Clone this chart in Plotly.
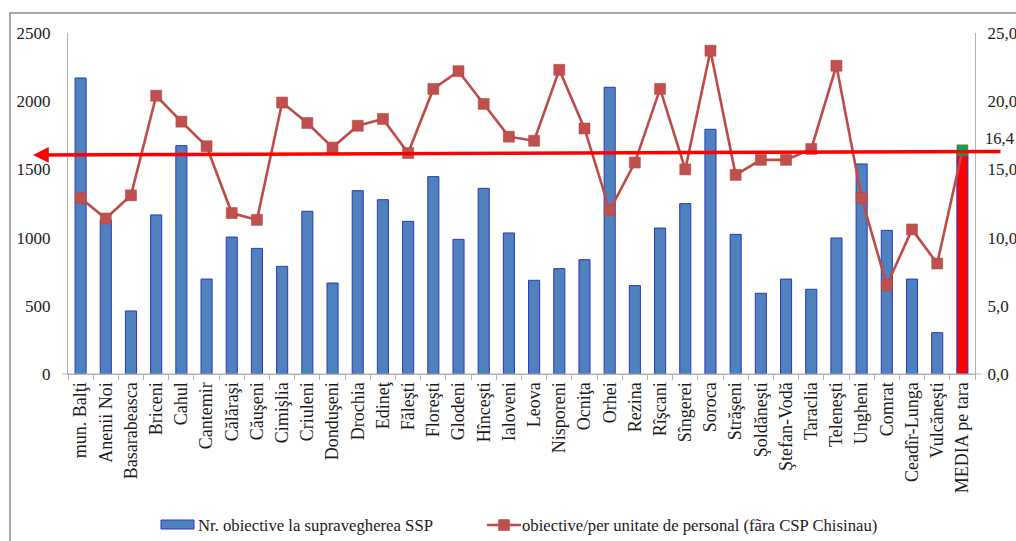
import plotly.graph_objects as go

# Raioane / unități teritoriale
categories = [
    "mun. Balţi", "Anenii Noi", "Basarabeasca", "Briceni", "Cahul", "Cantemir",
    "Călăraşi", "Căuşeni", "Cimişlia", "Criuleni", "Donduşeni", "Drochia",
    "Edineţ", "Făleşti", "Floreşti", "Glodeni", "Hînceşti", "Ialoveni",
    "Leova", "Nisporeni", "Ocniţa", "Orhei", "Rezina", "Rîşcani",
    "Sîngerei", "Soroca", "Străşeni", "Şoldăneşti", "Ştefan-Vodă", "Taraclia",
    "Teleneşti", "Ungheni", "Comrat", "Ceadîr-Lunga", "Vulcăneşti", "MEDIA pe tara",
]

# Nr. obiective la supravegherea SSP (axa stângă)
objectives = [
    2170, 1130, 462, 1166, 1674, 696,
    1004, 921, 789, 1193, 667, 1344,
    1278, 1119, 1447, 987, 1361, 1034,
    687, 772, 838, 2102, 648, 1070,
    1249, 1794, 1024, 592, 696, 621,
    997, 1540, 1053, 696, 303, 1640,
]

# Obiective per unitate de personal (axa dreaptă)
per_staff = [
    12.9, 11.4, 13.1, 20.4, 18.5, 16.7,
    11.8, 11.3, 19.9, 18.4, 16.6, 18.2,
    18.7, 16.2, 20.9, 22.2, 19.8, 17.4,
    17.1, 22.3, 18.0, 12.0, 15.5, 20.9,
    15.0, 23.7, 14.6, 15.7, 15.7, 16.5,
    22.6, 12.9, 6.5, 10.6, 8.1, 16.4,
]

left_ticks = [0, 500, 1000, 1500, 2000, 2500]
right_ticks = [0, 5, 10, 15, 20, 25]
right_tick_text = ["0,0", "5,0", "10,0", "15,0", "20,0", "25,0"]
media_label = "16,4"

bar_legend = "Nr. obiective la supravegherea SSP"
line_legend = "obiective/per unitate de personal (fãra CSP Chisinau)"

SERIF = "Liberation Serif, Times New Roman, serif"
TEXT = "#1a1a1a"
AXIS = "#b3b3b3"
BAR = "#4f81bd"
BAR_EDGE = "#2b35c4"
LINE = "#be4b48"
MARK = "#c0504d"

# plot area in pixels
L, R, T, B = 68, 975, 33, 374
PW, PH = R - L, B - T


def px(x):
    return (x - L) / PW


def py(y):
    return (B - y) / PH


last = len(categories) - 1
bar_colors = ["#ff0000" if i == last else BAR for i in range(len(categories))]
marker_colors = ["#00a651" if i == last else MARK for i in range(len(categories))]

fig = go.Figure()

fig.add_trace(go.Bar(
    x=categories, y=objectives, name=bar_legend,
    marker=dict(color=bar_colors, line=dict(color=BAR_EDGE, width=1)),
    yaxis="y", showlegend=False,
))

fig.add_trace(go.Scatter(
    x=categories, y=per_staff, name=line_legend,
    mode="lines+markers",
    line=dict(color=LINE, width=2.6),
    marker=dict(symbol="square", size=11, color=marker_colors,
                line=dict(color="#b0403d", width=0.5)),
    yaxis="y2", showlegend=False,
))

# national average line with arrow pointing to the left axis
fig.add_annotation(
    xref="paper", yref="paper",
    x=px(33), y=py(155),
    axref="pixel", ayref="pixel",
    ax=969, ay=-3.5,
    text="", showarrow=True,
    arrowhead=2, arrowsize=0.9, arrowwidth=3.5, arrowcolor="#ff0000",
    standoff=0, startstandoff=0,
)

fig.add_annotation(
    xref="paper", yref="paper",
    x=px(983), y=py(138),
    xanchor="left", yanchor="middle",
    text=media_label, showarrow=False,
    font=dict(family=SERIF, size=16.5, color=TEXT),
)

# outer chart frame
fig.add_shape(
    type="rect", xref="paper", yref="paper",
    x0=px(10), x1=px(1030), y0=py(560), y1=py(13),
    line=dict(color="#8c8c8c", width=1.5), fillcolor="rgba(0,0,0,0)",
    layer="below",
)

# baseline extending slightly past both value axes
fig.add_shape(
    type="line", xref="paper", yref="paper",
    x0=px(62), x1=px(981), y0=0, y1=0,
    line=dict(color=AXIS, width=1.2),
)

# legend: bar swatch + label, line/marker swatch + label
LEG_Y = 525
fig.add_shape(
    type="rect", xref="paper", yref="paper",
    x0=px(161), x1=px(194), y0=py(529), y1=py(520),
    line=dict(color=BAR_EDGE, width=1), fillcolor=BAR,
)
fig.add_annotation(
    xref="paper", yref="paper", x=px(196), y=py(LEG_Y),
    xanchor="left", yanchor="middle", text=bar_legend, showarrow=False,
    font=dict(family=SERIF, size=16.7, color=TEXT),
)
fig.add_shape(
    type="line", xref="paper", yref="paper",
    x0=px(487), x1=px(521), y0=py(LEG_Y), y1=py(LEG_Y),
    line=dict(color=LINE, width=2.6),
)
fig.add_shape(
    type="rect", xref="paper", yref="paper",
    x0=px(498.5), x1=px(509.5), y0=py(LEG_Y + 5.5), y1=py(LEG_Y - 5.5),
    line=dict(color="#b0403d", width=0.5), fillcolor=MARK,
)
fig.add_annotation(
    xref="paper", yref="paper", x=px(520), y=py(LEG_Y),
    xanchor="left", yanchor="middle", text=line_legend, showarrow=False,
    font=dict(family=SERIF, size=16.7, color=TEXT),
)

fig.update_layout(
    width=1016, height=541,
    margin=dict(l=L, r=1016 - R, t=T, b=541 - B),
    paper_bgcolor="white", plot_bgcolor="white",
    bargap=0.56,
    font=dict(family=SERIF, size=16, color=TEXT),
    showlegend=False,
    xaxis=dict(
        type="category", tickangle=-90, automargin=False,
        tickson="boundaries", ticks="outside", ticklen=5, tickcolor=AXIS,
        showline=True, linecolor=AXIS, linewidth=1.2,
        showgrid=False, zeroline=False,
        tickfont=dict(family=SERIF, size=18, color=TEXT),
        range=[-0.5, len(categories) - 0.5],
    ),
    yaxis=dict(
        range=[0, 2500], tickvals=left_ticks, automargin=False,
        ticktext=[str(v) for v in left_ticks],
        showline=True, linecolor=AXIS, linewidth=1.2,
        showgrid=False, zeroline=False, ticks="",
        ticklabelstandoff=13,
        tickfont=dict(family=SERIF, size=17, color=TEXT),
    ),
    yaxis2=dict(
        range=[0, 25], overlaying="y", side="right", automargin=False,
        tickvals=right_ticks, ticktext=right_tick_text,
        showline=True, linecolor=AXIS, linewidth=1.2,
        showgrid=False, zeroline=False, ticks="",
        ticklabelstandoff=8,
        tickfont=dict(family=SERIF, size=17, color=TEXT),
    ),
)

fig.write_html("out.html")
